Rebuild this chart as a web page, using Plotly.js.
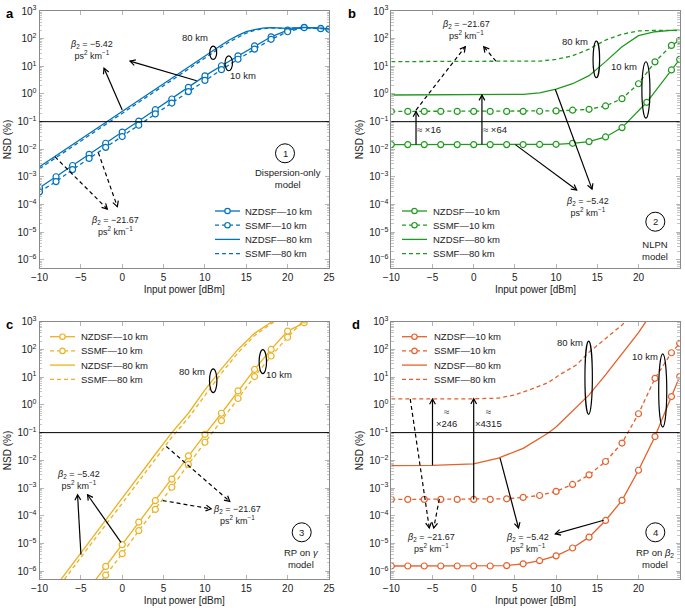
<!DOCTYPE html>
<html><head><meta charset="utf-8">
<script src="https://cdn.plot.ly/plotly-3.0.1.min.js"></script>
<style>html,body{margin:0;padding:0;background:#fff}#chart{width:685px;height:608px}</style>
</head><body><div id="chart"></div>
<script>
const W = 685, H = 608;

// ---------- data (NSD in %, input power in dBm) ----------
// panel a – dispersion-only model
const a_x10  = [-10,-8,-6,-4,-2,0,2,4,6,8,10,12,14,16,18,20,22,24,25];
const a_nz10 = [4.1e-4,1.02e-3,2.6e-3,6.6e-3,0.0166,0.042,0.105,0.27,0.66,1.74,4.5,10.5,24,55,117,204,257,234,224];
const a_ss10 = [2.9e-4,6.8e-4,1.85e-3,4.7e-3,0.0118,0.029,0.074,0.19,0.47,1.22,3.1,7.6,18,42,95,178,250,229,219];
const a_x80  = [-10,0,10,12,13,14,15,16,17,18,20,22,24,25];
const a_nz80 = [2.34e-3,0.24,23.4,59,91,132,178,214,240,251,234,257,240,224];
const a_ss80 = [2.0e-3,0.205,20,50,78,115,160,200,230,245,232,255,238,222];
// panel b – NLPN model
const b_xnz10 = [-10,-8,-6,-4,-2,0,2,4,6,8,10,12,14,16,18,21,24,25];
const b_nz10  = [0.0148,0.0148,0.0148,0.0148,0.0148,0.0148,0.0148,0.0148,0.0149,0.0150,0.0152,0.0165,0.019,0.028,0.061,0.50,7.4,17.8];
const b_xss10 = [-10,-8,-6,-4,-2,0,2,4,6,8,10,12,14,16,18,20,22,24,25];
const b_ss10  = [0.235,0.235,0.235,0.235,0.235,0.235,0.235,0.235,0.236,0.238,0.245,0.26,0.28,0.37,0.68,2.35,14.5,57,87];
const b_x80   = [-10,0,4,6,8,10,12,14,16,18,20,22,24,25];
const b_nz80  = [0.92,0.92,0.93,0.97,1.1,1.5,2.35,4.6,14.8,51,129,178,200,204];
const b_ss80  = [14.8,14.8,14.9,15.2,15.5,17.8,24,42,89,145,190,200,197,197];
// panel c – RP on gamma model
const c_x10  = [-4,-2,0,2,4,6,8,10,12,14,16,18,20,22];
const c_nz10 = [2.4e-7,1.5e-6,9.1e-6,5.9e-5,3.5e-4,2.1e-3,0.0145,0.087,0.50,3.2,19,100,457,912];
const c_ss10 = [1.2e-7,7.2e-7,4.3e-6,2.9e-5,1.7e-4,1.07e-3,7.1e-3,0.045,0.27,1.7,10.5,58,275,1150];
const c_x80  = [-8,-4,0,4,6,8,10,12,14,16,18,19];
const c_nz80 = [2.95e-7,1.17e-5,4.3e-4,0.0166,0.1,0.5,3.5,20,100,380,955,1410];
const c_ss80 = [2.0e-7,7.9e-6,2.8e-4,0.0112,0.068,0.34,2.3,14,76,316,850,1260];
// panel d – RP on beta2 model
const d_x10   = [-10,-8,-6,-4,-2,0,2,4,6,8,10,12,14,16,18,20,22,24,25];
const d_nz10  = [1.55e-6,1.55e-6,1.55e-6,1.55e-6,1.55e-6,1.55e-6,1.55e-6,1.6e-6,1.86e-6,2.4e-6,3.6e-6,6.9e-6,1.7e-5,6.8e-5,3.6e-4,4.4e-3,0.072,2.0,10.5];
const d_ss10  = [3.9e-4,3.9e-4,3.9e-4,3.9e-4,3.9e-4,3.9e-4,3.9e-4,4.1e-4,4.6e-4,5.4e-4,7.6e-4,1.35e-3,3.0e-3,9.1e-3,0.042,0.48,9.1,76,166];
const d_xnz80 = [-10,-5,0,3,6,8,9,10,12,14,16,18,20,21];
const d_nz80  = [6.5e-3,6.6e-3,7.4e-3,0.012,0.027,0.063,0.095,0.16,0.6,2.3,12,68,400,1120];
const d_xss80 = [-10,-5,0,3,5,7,9,10.5,12.5,14,16,18,19];
const d_ss80  = [1.64,1.64,1.66,1.75,2.3,3.7,6.3,12.5,28,80,250,760,1600];

const seriesNames = ['NZDSF—10 km','SSMF—10 km','NZDSF—80 km','SSMF—80 km'];
const yTickExp = [-6,-5,-4,-3,-2,-1,0,1,2,3];
const colors = {a:'#0072BD', b:'#1f9a1f', c:'#EDB120', d:'#E5602A'};

// ---------- helpers ----------
const YMIN = -6.29, YMAX = 3;
const PX_DB = 8.25, PX_DEC = 27.7;
const DASH = '4px,3px';
const yd = l => (l - YMIN) / (YMAX - YMIN);
const tickvals = yTickExp.map(e => Math.pow(10, e));
const ticktext = yTickExp.map(e => '10<sup>' + (e < 0 ? '\u2212' + (-e) : e) + '</sup>');
const minorvals = [];
for (let e = -7; e <= 2; e++) for (let m = 2; m <= 9; m++) minorvals.push(m * Math.pow(10, e));

function xax(domain, anchor) {
  return {domain, anchor, range:[-10,25], tickmode:'linear', tick0:-10, dtick:5,
    ticks:'inside', ticklen:4, tickcolor:'#b5b5b5', showline:true, linecolor:'#8a8a8a', linewidth:1,
    mirror:'allticks', showgrid:false, zeroline:false, tickfont:{size:10},
    title:{text:'Input power [dBm]', font:{size:10}, standoff:3}};
}
function yax(domain, anchor) {
  return {domain, anchor, type:'log', range:[YMIN,YMAX], tickmode:'array', tickvals, ticktext,
    ticks:'inside', ticklen:4, tickcolor:'#b5b5b5', showline:true, linecolor:'#8a8a8a', linewidth:1,
    mirror:'allticks', showgrid:false, zeroline:false, tickfont:{size:10},
    minor:{tickmode:'array', tickvals:minorvals, ticks:'inside', ticklen:2.5, tickcolor:'#c4c4c4', showgrid:false},
    title:{text:'NSD (%)', font:{size:10}, standoff:3}};
}

const traces = [];
const shapes = [], annotations = [];
const specs = [
  {mode:'lines+markers', dash:'solid'},
  {mode:'lines+markers', dash:DASH},
  {mode:'lines', dash:'solid'},
  {mode:'lines', dash:DASH}
];
function T(px, py, text, size, extra) {
  annotations.push(Object.assign({xref:'paper', yref:'paper', x:px/W, y:1-py/H, text, showarrow:false,
    font:{size:size||9.5, color:'#222'}, xanchor:'center', yanchor:'middle'}, extra||{}));
}
// legend drawn inside each panel
function legendBlock(col, sx, tx, rows) {
  rows.forEach((py, i) => {
    shapes.push({type:'line', xref:'paper', yref:'paper', x0:sx/W, x1:(sx+25)/W, y0:1-py/H, y1:1-py/H,
      line:{color:col, width:1.3, dash:specs[i].dash}});
    if (i < 2) {
      const r = 2.7, cx = sx + 12.5;
      shapes.push({type:'circle', xref:'paper', yref:'paper', x0:(cx-r)/W, x1:(cx+r)/W, y0:1-(py+r)/H, y1:1-(py-r)/H,
        fillcolor:'#fff', line:{color:col, width:1.2}});
    }
    T(tx, py, seriesNames[i], 9.5, {xanchor:'left'});
  });
}
function addPanel(s, col, xs, ys) {
  specs.forEach((sp, i) => {
    traces.push({x:xs[i], y:ys[i], xaxis:'x'+s, yaxis:'y'+s, name:seriesNames[i], showlegend:false,
      mode:sp.mode, line:{color:col, width:1.3, dash:sp.dash},
      marker:{symbol:'circle', size:6, color:'#fff', line:{color:col, width:1.2}},
      hoverinfo:'skip'});
  });
}
addPanel('',  colors.a, [a_x10,a_x10,a_x80,a_x80], [a_nz10,a_ss10,a_nz80,a_ss80]);
addPanel('2', colors.b, [b_xnz10,b_xss10,b_x80,b_x80], [b_nz10,b_ss10,b_nz80,b_ss80]);
addPanel('3', colors.c, [c_x10,c_x10,c_x80,c_x80], [c_nz10,c_ss10,c_nz80,c_ss80]);
addPanel('4', colors.d, [d_x10,d_x10,d_xnz80,d_xss80], [d_nz10,d_ss10,d_nz80,d_ss80]);

function hline(s) {
  shapes.push({type:'line', xref:'x'+s+' domain', yref:'y'+s+' domain', x0:0, x1:1, y0:yd(-1), y1:yd(-1), line:{color:'#000', width:1}});
}
function ell(s, cx, cl, rx, rl) {
  shapes.push({type:'circle', xref:'x'+s, yref:'y'+s+' domain', x0:cx-rx, x1:cx+rx, y0:yd(cl-rl), y1:yd(cl+rl), line:{color:'#000', width:1.2}});
}
// arrow: shaft (solid or dashed) + open arrowhead drawn as a pixel-sized path at the head
function arrow(s, tx, tl, hx, hl, dashed) {
  shapes.push({type:'line', xref:'x'+s, yref:'y'+s+' domain', x0:tx, y0:yd(tl), x1:hx, y1:yd(hl),
    line:{color:'#000', width:1.2, dash: dashed ? DASH : 'solid'}});
  const dx = (tx-hx)*PX_DB, dy = (tl-hl)*PX_DEC, len = Math.hypot(dx, dy);
  const ux = dx/len, uy = dy/len, L = 6, th = 0.5;
  const c = Math.cos(th), sn = Math.sin(th);
  const b1x = L*(ux*c - uy*sn), b1y = L*(ux*sn + uy*c);
  const b2x = L*(ux*c + uy*sn), b2y = L*(-ux*sn + uy*c);
  shapes.push({type:'path', xref:'x'+s, yref:'y'+s+' domain', xsizemode:'pixel', ysizemode:'pixel',
    xanchor:hx, yanchor:yd(hl),
    path:'M'+b1x.toFixed(2)+','+b1y.toFixed(2)+' L0,0 L'+b2x.toFixed(2)+','+b2y.toFixed(2),
    line:{color:'#000', width:1.2}});
}
function circ(px, py, r, label) {
  shapes.push({type:'circle', xref:'paper', yref:'paper', x0:(px-r)/W, x1:(px+r)/W, y0:1-(py+r)/H, y1:1-(py-r)/H, line:{color:'#000', width:1}});
  T(px, py, label, 9.5);
}
const B542 = '<i>β</i><sub>2</sub> = \u22125.42<br>ps<sup>2</sup> km<sup>\u22121</sup>';
const B2167 = '<i>β</i><sub>2</sub> = \u221221.67<br>ps<sup>2</sup> km<sup>\u22121</sup>';
const letterFont = {size:13, color:'#000'};

// panel a
hline('');
ell('', 11.0, 1.49, 0.42, 0.24); ell('', 12.88, 1.11, 0.45, 0.27);
arrow('', 0, -0.58, -2.2, 0.93); arrow('', 9.0, 0.48, 0.94, 1.19);
arrow('', -8.13, -2.27, -1.8, -4.16, true); arrow('', -2.89, -2.12, -0.59, -4.07, true);
T(195, 37.7, '80 km'); T(243.3, 75.7, '10 km');
T(91.7, 50, B542, 9); T(115, 226.5, B2167, 9);
circ(285, 153.3, 9.5, '1'); T(288, 179, 'Dispersion-only<br>model', 9.5);
T(4, 4, '<b>a</b>', 13, {xanchor:'left', yanchor:'top', font:letterFont});
legendBlock(colors.a, 215, 243, [211, 225.2, 239.4, 253.6]);

// panel b
hline('2');
ell('2', 14.88, 1.25, 0.40, 0.66); ell('2', 20.9, 0.145, 0.49, 1.02);
arrow('2', -7.0, -0.58, -1.02, 1.71, true); arrow('2', 2.7, 1.19, 1.21, 1.71, true);
arrow('2', -7, -1.83, -7, -0.63); arrow('2', 1, -1.83, 1, -0.04);
arrow('2', 5.05, -1.83, 12.5, -3.47); arrow('2', 9.9, 0.17, 14.36, -3.44);
T(466, 30, B2167, 9);
T(575.3, 41.7, '80 km'); T(623.7, 66.7, '10 km');
T(429, 130, '≈ ×16'); T(495, 130, '≈ ×64');
T(587, 206.5, B542, 9);
circ(655.3, 221.7, 9.5, '2'); T(655.3, 251, 'NLPN<br>model', 9.5);
T(346, 4, '<b>b</b>', 13, {xanchor:'left', yanchor:'top', font:letterFont});
legendBlock(colors.b, 402, 430.5, [211, 225.2, 239.4, 253.6]);

// panel c
hline('3');
ell('3', 11.0, 0.87, 0.45, 0.43); ell('3', 17.0, 1.56, 0.45, 0.43);
arrow('3', -4.99, -5.40, -5.4, -3.24); arrow('3', -0.15, -4.96, -4.19, -3.24);
arrow('3', 5.34, -1.5, 13.0, -3.48, true); arrow('3', 4.9, -3.45, 10.75, -3.75, true);
T(78.3, 479.5, B542, 9);
T(191.7, 371, '80 km'); T(279.3, 374.7, '10 km');
T(236.7, 515, B2167, 9);
circ(301.7, 532.3, 9.5, '3'); T(301.7, 558, 'RP on <i>γ</i><br>model', 9.5);
T(4, 315, '<b>c</b>', 13, {xanchor:'left', yanchor:'top', font:letterFont});
legendBlock(colors.c, 50, 79.3, [336.7, 350.9, 365.1, 379.3]);

// panel d
hline('4');
ell('4', 13.95, 0.98, 0.45, 1.32); ell('4', 22.94, 0.52, 0.49, 1.32);
arrow('4', -7.7, 0.21, -5.39, -4.44, true); arrow('4', -4.17, -3.39, -4.85, -4.44, true);
arrow('4', -5, -2.18, -5, 0.215); arrow('4', 0, -3.41, 0, 0.22);
arrow('4', 3.2, -1.92, 5.44, -4.44); arrow('4', 15.78, -4.16, 9.9, -4.65);
T(569.7, 342.7, '80 km'); T(645.3, 356.7, '10 km');
T(446, 417, '≈<br>×246'); T(488.7, 417, '≈<br>×4315');
T(431.3, 542.5, B2167, 9);
T(527, 543, B542, 9);
circ(655.3, 532.3, 9.5, '4'); T(655.3, 558.5, 'RP on <i>β</i><sub>2</sub><br>model', 9.5);
T(350, 315, '<b>d</b>', 13, {xanchor:'left', yanchor:'top', font:letterFont});
legendBlock(colors.d, 402, 432, [336.7, 350.9, 365.1, 379.3]);

const topD = [(H-268)/H, (H-11)/H], botD = [(H-579.3)/H, (H-321.7)/H];
const leftD = [39.5/W, 329/W], rightD = [391.3/W, 679.7/W];

const layout = {
  width:W, height:H, margin:{l:0, r:0, t:0, b:0}, paper_bgcolor:'#fff', plot_bgcolor:'#fff',
  font:{family:'"Liberation Sans", Arial, Helvetica, sans-serif', size:10, color:'#222'},
  showlegend:false, hovermode:false,
  xaxis: xax(leftD, 'y'),  yaxis: yax(topD, 'x'),
  xaxis2: xax(rightD, 'y2'), yaxis2: yax(topD, 'x2'),
  xaxis3: xax(leftD, 'y3'), yaxis3: yax(botD, 'x3'),
  xaxis4: xax(rightD, 'y4'), yaxis4: yax(botD, 'x4'),
  shapes, annotations
};
Plotly.newPlot('chart', traces, layout, {staticPlot:true, displayModeBar:false});
</script>
</body></html>
